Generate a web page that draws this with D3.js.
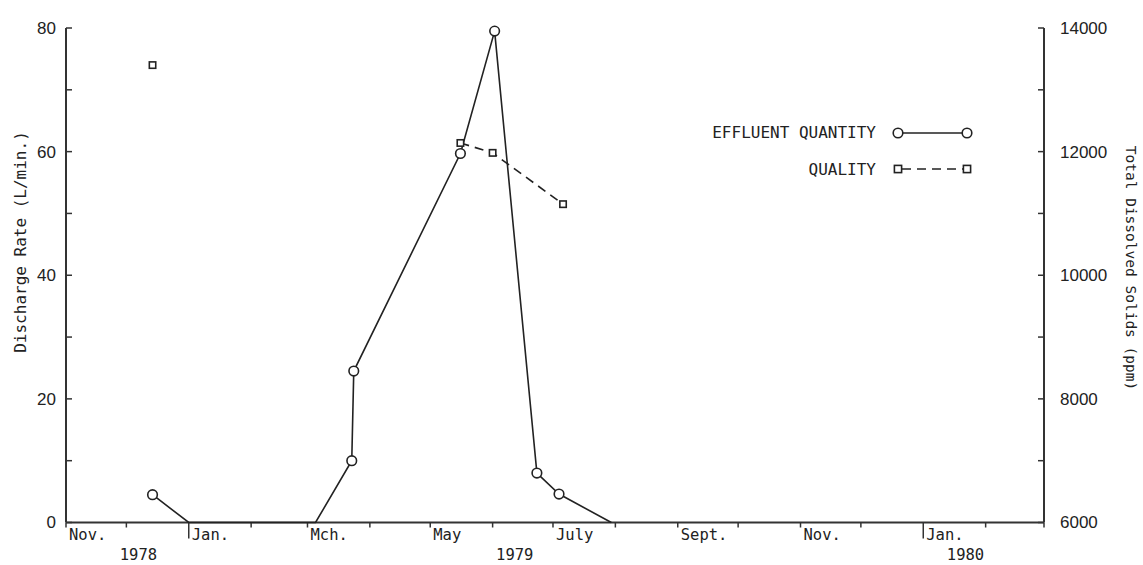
<!DOCTYPE html>
<html><head><meta charset="utf-8">
<script src="https://cdn.jsdelivr.net/npm/d3@7"></script>
<style>
html,body{margin:0;padding:0;background:#fff;}
svg{display:block;}
text{fill:#222;}
</style></head>
<body>
<svg id="c" width="1143" height="565"></svg>
<script>
// ---- data ----
const quantityDates = ["1978-12-14","1979-01-01","1979-03-05","1979-03-23","1979-03-24","1979-05-16","1979-06-02","1979-06-23","1979-07-04","1979-07-30"];
const quantityValues = [4.5, 0, 0, 10, 24.5, 59.7, 79.5, 8, 4.6, 0];
const qualityDates = ["1978-12-14","1979-05-16","1979-06-01","1979-07-06"];
const qualityValues = [13400, 12140, 11980, 11150];
const qualityLinked = [false, true, true, true];
const monthLabelDates = ["1978-11-01","1979-01-01","1979-03-01","1979-05-01","1979-07-01","1979-09-01","1979-11-01","1980-01-01"];
const monthLabels = ["Nov.","Jan.","Mch.","May","July","Sept.","Nov.","Jan."];
const yearLabelDates = ["1978-12-07","1979-06-12","1980-01-22"];
const yearLabels = ["1978","1979","1980"];
const leftTicks = [0,10,20,30,40,50,60,70,80];
const leftLabels = [0,20,40,60,80];
const rightTicks = [6000,7000,8000,9000,10000,11000,12000,13000,14000];
const rightLabels = [6000,8000,10000,12000,14000];
const legendNames = ["EFFLUENT QUANTITY","QUALITY"];

const parse = d3.timeParse("%Y-%m-%d");
const svg = d3.select("#c");
const ink = "#222";
const mono = "'DejaVu Sans Mono', monospace";
const sans = "'Liberation Sans', Arial, sans-serif";

const x = d3.scaleTime().domain([parse("1978-11-01"), parse("1980-03-01")]).range([66, 1044]);
const yL = d3.scaleLinear().domain([0, 80]).range([522.5, 28]);
const yR = d3.scaleLinear().domain([6000, 14000]).range([522.5, 28]);

// axes lines
const ax = svg.append("g").attr("stroke", "#333").attr("stroke-width", 2).attr("fill","none");
ax.append("line").attr("x1", x.range()[0]).attr("x2", x.range()[1]).attr("y1", yL(0)).attr("y2", yL(0));
ax.append("line").attr("x1", x.range()[0]).attr("x2", x.range()[0]).attr("y1", yL(0)).attr("y2", yL(80));
ax.append("line").attr("x1", x.range()[1]).attr("x2", x.range()[1]).attr("y1", yR(6000)).attr("y2", yR(14000));

// left ticks (inward)
svg.append("g").selectAll("line").data(leftTicks).join("line")
  .attr("x1", x.range()[0]).attr("x2", x.range()[0] + 6)
  .attr("y1", d => yL(d)).attr("y2", d => yL(d))
  .attr("stroke", "#333").attr("stroke-width", 1.5);
svg.append("g").selectAll("text").data(leftLabels).join("text")
  .attr("x", 56).attr("y", d => yL(d)).attr("dy", "0.35em")
  .attr("text-anchor", "end").attr("font-family", sans).attr("font-size", 17)
  .text(d => d);

// right ticks (inward)
svg.append("g").selectAll("line").data(rightTicks).join("line")
  .attr("x1", x.range()[1] - 6).attr("x2", x.range()[1])
  .attr("y1", d => yR(d)).attr("y2", d => yR(d))
  .attr("stroke", "#333").attr("stroke-width", 1.5);
svg.append("g").selectAll("text").data(rightLabels).join("text")
  .attr("x", 1060).attr("y", d => yR(d)).attr("dy", "0.35em")
  .attr("text-anchor", "start").attr("font-family", sans).attr("font-size", 17)
  .text(d => d);

// x ticks (monthly)
const monthTicks = d3.timeMonth.range(parse("1978-11-01"), parse("1980-03-02"));
svg.append("g").selectAll("line").data(monthTicks).join("line")
  .attr("x1", d => x(d)).attr("x2", d => x(d))
  .attr("y1", yL(0)).attr("y2", d => d.getMonth() === 0 ? yL(0) + 16 : yL(0) + 5)
  .attr("stroke", "#333").attr("stroke-width", 1.5);
svg.append("g").selectAll("text").data(monthLabels).join("text")
  .attr("x", (d, i) => x(parse(monthLabelDates[i])) + 3).attr("y", 540)
  .attr("font-family", mono).attr("font-size", 15.5)
  .text(d => d);
svg.append("g").selectAll("text").data(yearLabels).join("text")
  .attr("x", (d, i) => x(parse(yearLabelDates[i]))).attr("y", 560)
  .attr("text-anchor", "middle").attr("font-family", mono).attr("font-size", 15.5)
  .text(d => d);

// axis titles
svg.append("text").attr("transform", "translate(26,242) rotate(-90)")
  .attr("text-anchor", "middle").attr("font-family", mono).attr("font-size", 16)
  .text("Discharge Rate (L/min.)");
svg.append("text").attr("transform", "translate(1126,268) rotate(90)")
  .attr("text-anchor", "middle").attr("font-family", mono).attr("font-size", 14.5)
  .text("Total Dissolved Solids (ppm)");

// quantity line
const qData = quantityDates.map((d, i) => ({date: parse(d), v: quantityValues[i]}));
svg.append("path").datum(qData)
  .attr("d", d3.line().x(d => x(d.date)).y(d => yL(d.v)))
  .attr("fill", "none").attr("stroke", ink).attr("stroke-width", 1.6);

// quality dashed line
const wData = qualityDates.map((d, i) => ({date: parse(d), v: qualityValues[i], linked: qualityLinked[i]}));
svg.append("path").datum(wData.filter(d => d.linked))
  .attr("d", d3.line().x(d => x(d.date)).y(d => yR(d.v)))
  .attr("fill", "none").attr("stroke", ink).attr("stroke-width", 1.6)
  .attr("stroke-dasharray", "9,6");

// markers
svg.append("g").selectAll("circle").data(qData.filter(d => d.v > 0)).join("circle")
  .attr("cx", d => x(d.date)).attr("cy", d => yL(d.v)).attr("r", 4.8)
  .attr("fill", "#fff").attr("stroke", ink).attr("stroke-width", 1.6);
svg.append("g").selectAll("rect").data(wData).join("rect")
  .attr("x", d => x(d.date) - 3.2).attr("y", d => yR(d.v) - 3.2)
  .attr("width", 6.4).attr("height", 6.4)
  .attr("fill", "#fff").attr("stroke", ink).attr("stroke-width", 1.6);

// legend
const lg = svg.append("g");
lg.selectAll("text").data(legendNames).join("text")
  .attr("x", 876).attr("y", (d, i) => i === 0 ? 132 : 169).attr("dy", "0.35em")
  .attr("text-anchor", "end").attr("font-family", mono).attr("font-size", 16)
  .text(d => d);
lg.append("line").attr("x1", 898).attr("x2", 967).attr("y1", 133).attr("y2", 133)
  .attr("stroke", ink).attr("stroke-width", 1.6);
lg.selectAll("circle").data([898, 967]).join("circle")
  .attr("cx", d => d).attr("cy", 133).attr("r", 4.8)
  .attr("fill", "#fff").attr("stroke", ink).attr("stroke-width", 1.6);
lg.append("line").attr("x1", 898).attr("x2", 967).attr("y1", 169).attr("y2", 169)
  .attr("stroke", ink).attr("stroke-width", 1.6).attr("stroke-dasharray", "9,6").attr("stroke-dashoffset", -4);
lg.selectAll("rect").data([898, 967]).join("rect")
  .attr("x", d => d - 3.6).attr("y", 169 - 3.6).attr("width", 7.2).attr("height", 7.2)
  .attr("fill", "#fff").attr("stroke", ink).attr("stroke-width", 1.6);
</script>
</body></html>
